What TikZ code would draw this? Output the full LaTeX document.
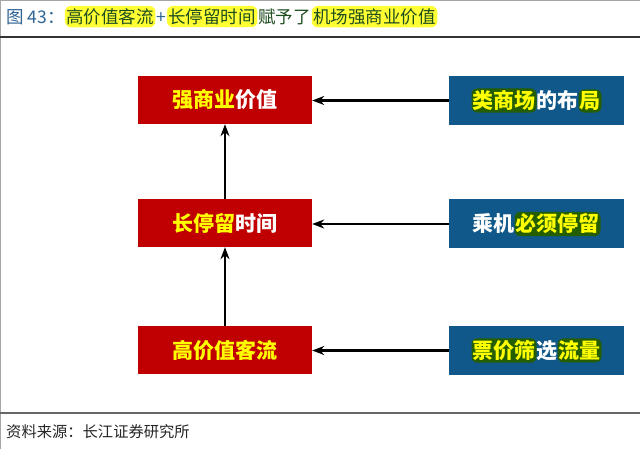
\documentclass[tikz,border=0pt]{standalone}
\usepackage{fontspec}
\setmainfont{Noto Sans CJK SC}
\usetikzlibrary{arrows.meta,calc}
\definecolor{boxred}{HTML}{C00000}
\definecolor{boxblue}{HTML}{10588A}
\definecolor{hlgreen}{HTML}{245E00}
\definecolor{ytext}{HTML}{FFFF00}
\definecolor{titleyellow}{HTML}{FFFF33}
\definecolor{titlegreen}{HTML}{1E4D1E}
\definecolor{titleblue}{HTML}{2E6496}
\newcommand{\hlg}[1]{\tikz[baseline=(hlgn.base)]\node[fill=hlgreen,text=ytext,rounded corners=6pt,minimum width=0pt,minimum height=0pt,inner xsep=1pt,inner ysep=2pt](hlgn){#1};}
\tikzset{
  redbox/.style={fill=boxred,minimum width=174pt,minimum height=48pt,inner sep=0pt,font=\fontsize{21}{24}\selectfont\bfseries},
  bluebox/.style={fill=boxblue,minimum width=175pt,minimum height=49pt,inner sep=0pt,font=\fontsize{21}{24}\selectfont\bfseries},
  conn/.style={line width=2.4pt,-{Stealth[length=12pt,width=9pt]}},
  hlt/.style={fill=titleyellow,text=titlegreen,rounded corners=6pt,inner xsep=1.5pt,inner ysep=2.5pt,font=\fontsize{17.5}{20}\selectfont},
  plaint/.style={inner xsep=0.5pt,inner ysep=2.5pt,font=\fontsize{17.5}{20}\selectfont}
}
\begin{document}
\begin{tikzpicture}[x=1pt,y=-1pt]
\useasboundingbox[fill=white] (0,0) rectangle (640,449);
% frame
\draw[gray!70,line width=1pt] (0.5,449) -- (0.5,0.5) -- (640,0.5);
\draw[black!80,line width=1.5pt] (0,37) -- (640,37);
\draw[black!60,line width=1.5pt] (0,413) -- (640,413);
% title
\node[plaint,anchor=west,text=titleblue,inner xsep=0pt] (t0) at (6,17) {图 43：};
\node[hlt,anchor=base west] (t1) at (t0.base east) {高价值客流};
\node[plaint,anchor=base west,text=titleblue] (t2) at (t1.base east) {+};
\node[hlt,anchor=base west] (t3) at (t2.base east) {长停留时间};
\node[plaint,anchor=base west,text=titlegreen] (t4) at (t3.base east) {赋予了};
\node[hlt,anchor=base west] (t5) at (t4.base east) {机场强商业价值};
% boxes
\node[redbox] (r1) at (225,100) {{\color{ytext}强商业}{\color{white}价值}};
\node[redbox] (r2) at (225,223) {{\color{ytext}长停留}{\color{white}时间}};
\node[redbox] (r3) at (225,350) {{\color{ytext}高价值客流}};
\node[bluebox] (b1) at (536.5,100.5) {\hlg{类商场}{\color{white}的布}\hlg{局}};
\node[bluebox] (b2) at (536.5,224) {{\color{white}乘机}\hlg{必须停留}};
\node[bluebox] (b3) at (536.5,350.5) {\hlg{票价筛}{\color{white}选}\hlg{流量}};
% connectors
\draw[conn] (b1.west) -- (b1.west -| r1.east);
\draw[conn] (b2.west) -- (b2.west -| r2.east);
\draw[conn] (b3.west) -- (b3.west -| r3.east);
\draw[conn] (r3.north) -- (r2.south);
\draw[conn] (r2.north) -- (r1.south);
% footer
\node[anchor=west,inner sep=0pt,text=black!85,font=\fontsize{15.3}{17}\selectfont] (src) at (6,432) {资料来源：长江证券研究所};
\end{tikzpicture}
\end{document}
